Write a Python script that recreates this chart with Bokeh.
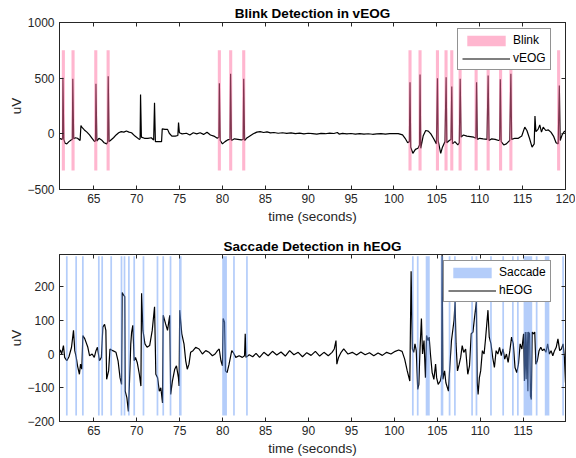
from bokeh.plotting import figure
from bokeh.models import Range1d, FixedTicker, LinearAxis, Legend, LegendItem
from bokeh.layouts import column
from bokeh.embed import file_html
from bokeh.resources import INLINE

# ---------------- data ----------------
veog_t = [61.00, 61.15, 61.30, 61.36, 61.40, 61.50, 61.65, 61.85, 62.10, 62.35, 62.50, 62.55, 62.65, 62.85,
          63.10, 63.40, 63.50, 63.60, 63.90, 64.20, 64.50, 64.80, 65.10, 65.20, 65.25, 65.35, 65.60, 65.90,
          66.20, 66.50, 66.62, 66.68, 66.78, 67.00, 67.30, 67.60, 67.90, 68.20, 68.50, 68.80, 69.10, 69.40,
          69.80, 70.30, 70.40, 70.45, 70.55, 70.90, 71.30, 71.70, 71.98, 72.08, 72.18, 72.50, 72.90, 72.98,
          73.30, 73.60, 73.80, 74.10, 74.50, 74.80, 74.88, 74.98, 75.30, 75.80, 76.20, 76.60, 77.00, 77.40,
          77.80, 78.20, 78.60, 79.00, 79.40, 79.58, 79.64, 79.74, 80.00, 80.30, 80.60, 80.88, 80.95, 81.05,
          81.40, 81.80, 82.20, 82.42, 82.48, 82.58, 82.80, 83.20, 83.60, 84.00, 84.40, 84.80, 85.20, 85.60,
          86.00, 86.50, 87.00, 87.50, 88.00, 88.50, 89.00, 89.50, 90.00, 90.50, 91.00, 91.50, 92.00, 92.50,
          93.00, 93.40, 93.60, 94.00, 94.50, 95.00, 95.50, 96.00, 96.50, 97.00, 97.50, 98.00, 98.50, 99.00,
          99.50, 100.00, 100.50, 101.00, 101.30, 101.60, 101.80, 101.87, 101.95, 102.20, 102.50, 102.80,
          102.98, 103.04, 103.12, 103.40, 103.70, 104.00, 104.30, 104.60, 104.95, 105.07, 105.15, 105.45,
          105.65, 105.95, 106.08, 106.16, 106.45, 106.65, 106.74, 106.82, 107.10, 107.45, 107.62, 107.72,
          107.82, 108.10, 108.50, 108.90, 109.30, 109.55, 109.63, 109.72, 110.00, 110.40, 110.85, 110.98,
          111.08, 111.40, 111.80, 112.20, 112.32, 112.40, 112.50, 112.80, 113.10, 113.50, 113.63, 113.72,
          114.10, 114.50, 114.90, 115.25, 115.50, 115.80, 116.10, 116.35, 116.44, 116.55, 116.80, 117.00,
          117.20, 117.40, 117.70, 118.00, 118.30, 118.60, 118.90, 119.15, 119.28, 119.38, 119.60, 119.85,
          120.00]
veog_v = [-40, -45, -50, -40, 503, -50, -85, -90, -70, -55, -50, 494, -45, -35,
          -40, -60, 75, 60, 35, 15, -10, -40, -70, -60, 449, -65, -40, -55,
          -80, -90, -75, 518, -70, -55, -35, -10, 10, 20, 15, 25, 15, 10,
          -20, -50, -45, 353, -30, -40, -40, -35, -55, 278, -70, -70, -70, 45,
          40, 40, 5, -20, -20, -15, 101, 10, 0, 5, -10, 10, 0, 10,
          -5, 15, -10, -20, -40, -30, 454, -60, -90, -70, -55, -50, 539, -60,
          -45, -50, -55, -50, 494, -60, -40, -20, 0, 15, 20, 12, 18, 8,
          12, 5, 10, 4, 8, 2, 6, 0, 5, 2, -3, 4, 1, 6,
          3, 12, -2, 4, 0, 3, -2, 2, -3, 1, -4, 0, 2, -2,
          1, 3, 2, -10, -40, -80, -70, 464, -120, -175, -140, -130,
          -100, 533, -130, -20, 30, 25, 0, -40, -90, 500, -60, -175,
          -120, -70, 509, -80, -60, -50, 425, -90, -70, -100, -80, 494,
          -30, -10, -20, -25, -30, -40, 464, -50, -40, -45, -50, 524,
          -60, -45, -50, -60, -55, 491, -70, -100, -90, -60, 539, -50,
          -40, -40, -20, 60, 30, -40, -120, -90, 160, 20, 40, 80,
          15, 60, 30, 35, 15, -20, -80, -90, 434, -60, -10, 20,
          25]

heog_t = [61.00, 61.10, 61.25, 61.46, 61.60, 61.85, 62.10, 62.40, 62.63, 62.78, 62.95, 63.10, 63.32, 63.45,
          63.60, 63.72, 63.95, 64.30, 64.50, 64.80, 65.05, 65.25, 65.42, 65.65, 65.88, 66.05, 66.25, 66.40,
          66.49, 66.72, 66.88, 67.20, 67.58, 67.82, 68.05, 68.23, 68.30, 68.45, 68.60, 68.65, 68.85, 69.02,
          69.14, 69.30, 69.40, 69.54, 69.70, 69.85, 70.05, 70.30, 70.48, 70.56, 70.72, 70.95, 71.20, 71.50,
          71.80, 72.07, 72.22, 72.42, 72.62, 72.80, 73.00, 73.08, 73.35, 73.58, 73.84, 73.95, 74.15, 74.42,
          74.62, 74.85, 74.93, 75.00, 75.24, 75.50, 75.70, 75.88, 76.08, 76.27, 76.55, 76.86, 77.25, 77.64,
          78.03, 78.42, 78.81, 79.12, 79.40, 79.60, 79.80, 79.98, 80.06, 80.22, 80.33, 80.52, 80.75, 81.06,
          81.22, 81.53, 81.92, 82.30, 82.55, 82.63, 82.72, 83.10, 83.50, 83.89, 84.30, 84.80, 85.30, 85.80,
          86.30, 86.80, 87.30, 87.80, 88.30, 88.80, 89.30, 89.80, 90.30, 90.80, 91.30, 91.80, 92.30, 92.74,
          93.00, 93.20, 93.30, 93.50, 93.80, 94.10, 94.60, 95.10, 95.60, 96.10, 96.60, 97.10, 97.60, 98.10,
          98.60, 99.10, 99.60, 100.10, 100.50, 100.90, 101.20, 101.50, 101.80, 101.95, 102.10, 102.25,
          102.40, 102.55, 102.72, 102.85, 102.98, 103.15, 103.28, 103.45, 103.62, 103.75, 103.92, 104.05,
          104.20, 104.40, 104.60, 104.80, 104.92, 105.10, 105.35, 105.50, 105.56, 105.65, 105.85, 106.00,
          106.30, 106.45, 106.65, 106.95, 107.07, 107.18, 107.35, 107.55, 107.72, 107.90, 108.08, 108.30,
          108.55, 108.75, 108.95, 109.15, 109.30, 109.55, 109.65, 109.75, 109.90, 110.05, 110.25, 110.45,
          110.60, 110.90, 111.05, 111.25, 111.45, 111.65, 111.85, 112.05, 112.25, 112.45, 112.65, 112.85,
          113.05, 113.25, 113.45, 113.65, 113.85, 114.05, 114.25, 114.45, 114.65, 114.85, 115.05, 115.15,
          115.25, 115.35, 115.45, 115.55, 115.62, 115.75, 115.85, 115.95, 116.05, 116.20, 116.35, 116.48,
          116.65, 116.85, 117.05, 117.25, 117.45, 117.65, 117.85, 118.05, 118.25, 118.45, 118.65, 118.85,
          119.05, 119.25, 119.45, 119.65, 119.80, 119.93]
heog_v = [5, 12, 0, 25, -10, -20, -8, 20, 70, 10, -10, -35, -60, -30,
          -45, 55, 45, 20, -5, 0, -10, 10, 20, -20, -10, 80, 88, 70,
          -75, -50, 15, 10, 5, -20, -70, -90, 182, 175, 170, -110, -130, -170,
          -90, 30, 65, 85, -20, -10, -25, -60, -95, 180, 70, 30, 20, 25,
          70, 140, -60, -70, -110, -100, -145, 115, 90, 70, 115, -120, -80, -45,
          -35, -70, -95, 130, 60, 30, -20, -45, -30, 5, 10, 20, 15, 0,
          10, 5, -5, 0, 10, 15, -20, -35, 105, 95, -50, -55, -30, 10,
          5, -10, -5, -10, -5, 60, -10, -2, -8, 2, -10, 5, -5, 8,
          -3, 6, -6, 10, -2, 5, -8, 4, -4, 8, -6, 5, -5, 5,
          15, 40, -30, -10, 5, 15, 0, 5, -3, 6, -2, 4, -5, 3,
          -4, 5, 0, 8, 12, 8, -15, -50, -80, 245, 15, 5,
          30, 10, -105, -90, 10, 105, 0, 40, -70, 55, 40, 50,
          0, -55, -75, -30, -70, -90, -80, -60, 295, -75, -50, -85,
          -110, -40, 40, 100, 155, 30, -50, -30, -10, 25, 5, 15,
          -60, -35, 60, 65, 100, 155, -85, -120, -70, -50, 10, 0,
          40, 130, 50, 30, -10, -40, 10, 0, 20, -5, 15, -15,
          0, -25, 10, 50, 30, -40, -55, -30, 30, 15, 60, -80,
          65, -75, 65, -110, 65, 60, -125, -135, 65, 60, 65, -30,
          -20, 10, 20, 10, 15, 5, 30, 0, 10, -5, 10, 20,
          45, 10, 15, 30, -10, -85]

blink_start = [61.27, 62.40, 65.05, 66.49, 79.46, 80.78, 82.30, 101.69, 102.86, 104.89, 105.89,
               106.56, 107.53, 109.40, 110.80, 112.25, 113.45, 119.02]
blink_end = [61.63, 62.76, 65.41, 66.85, 79.82, 81.14, 82.66, 102.05, 103.22, 105.25, 106.25,
             106.92, 107.89, 109.76, 111.16, 112.61, 113.81, 119.38]
blink_lo = -330
blink_hi = 750

sacc_start = [61.75, 62.84, 63.62, 65.48, 65.87, 66.92, 68.12, 68.47, 68.98, 69.60, 70.68, 72.31,
              72.98, 73.83, 74.92, 79.95, 81.22, 82.73, 102.05, 102.62, 103.65, 105.40, 106.33,
              106.95, 108.95, 109.46, 111.15, 112.57, 113.70, 114.28, 115.05, 116.47, 117.52, 119.55]
sacc_end = [61.95, 63.04, 63.82, 65.68, 66.07, 67.12, 68.32, 68.67, 69.18, 69.80, 70.88, 72.51,
            73.18, 74.03, 75.22, 80.50, 81.42, 82.93, 102.25, 102.82, 104.12, 105.70, 106.53,
            107.15, 109.15, 109.66, 111.35, 112.77, 113.90, 114.48, 116.05, 116.67, 118.05, 119.75]
sacc_lo = -182
sacc_hi = 290

top_yticks = [-500, 0, 500, 1000]
bot_yticks = [-200, -100, 0, 100, 200]
top_xticks = [65, 70, 75, 80, 85, 90, 95, 100, 105, 110, 115, 120]
bot_xticks = [65, 70, 75, 80, 85, 90, 95, 100, 105, 110, 115]

# ---------------- styling ----------------
FONT = "Liberation Sans"
AX = "#262626"
PINK = "#ff6d9f"
BLUE = "#6a9cf6"


def style_axis(ax, ticker, labels=True, standoff=3):
    ax.ticker = FixedTicker(ticks=ticker)
    ax.axis_line_color = AX
    ax.major_tick_line_color = AX
    ax.major_tick_in = 4
    ax.major_tick_out = 0
    ax.minor_tick_line_color = None
    ax.major_label_text_font = FONT
    if labels:
        ax.major_label_text_color = AX
        ax.major_label_text_font_size = "12px"
        ax.major_label_standoff = standoff
    else:
        ax.major_label_text_color = None
        ax.major_label_text_font_size = "0px"
        ax.major_label_standoff = 0


def make_fig(title, xhi, ylo, yhi, xticks, yticks, top_border, bottom_border, title_standoff):
    p = figure(frame_width=506, frame_height=167,
               x_range=Range1d(61, xhi), y_range=Range1d(ylo, yhi),
               output_backend="svg", toolbar_location=None,
               min_border_left=59, min_border_right=10, min_border_top=top_border,
               min_border_bottom=bottom_border, title=title)
    p.title.align = "center"
    p.title.text_font = FONT
    p.title.text_font_size = "13.5px"
    p.title.text_font_style = "bold"
    p.title.text_color = "black"
    p.title.standoff = title_standoff
    p.title.offset = 0
    p.xgrid.visible = False
    p.ygrid.visible = False
    p.outline_line_color = AX
    p.background_fill_color = "white"
    p.border_fill_color = "white"
    style_axis(p.xaxis[0], xticks, standoff=4)
    style_axis(p.yaxis[0], yticks, standoff=5)
    p.xaxis.axis_label = "time (seconds)"
    p.yaxis.axis_label = "uV"
    for ax in (p.xaxis[0], p.yaxis[0]):
        ax.axis_label_text_font = FONT
        ax.axis_label_text_font_size = "13.5px"
        ax.axis_label_text_font_style = "normal"
        ax.axis_label_text_color = AX
    p.xaxis.axis_label_standoff = 3
    p.yaxis.axis_label_standoff = 0
    top_ax = LinearAxis()
    style_axis(top_ax, xticks, labels=False)
    p.add_layout(top_ax, "above")
    right_ax = LinearAxis()
    style_axis(right_ax, yticks, labels=False)
    p.add_layout(right_ax, "right")
    return p


def make_legend(items, loc):
    lg = Legend(items=items, location=loc, orientation="vertical",
                glyph_width=48, glyph_height=13, label_height=13,
                label_standoff=3, padding=4, spacing=4, margin=0,
                border_line_color=AX, border_line_width=1,
                background_fill_color="white", background_fill_alpha=1,
                label_text_font=FONT, label_text_font_size="12px",
                label_text_color="black")
    return lg


# top plot
p1 = make_fig("Blink Detection in vEOG", 120, -500, 1000, top_xticks, top_yticks, 22, 38, 3)
l1 = p1.line(veog_t, veog_v, line_color="black", line_width=1.2)
b1 = p1.quad(left=blink_start, right=blink_end, bottom=blink_lo, top=blink_hi,
             fill_color=PINK, fill_alpha=0.5, line_color=None)
p1.add_layout(make_legend([LegendItem(label="Blink", renderers=[b1]),
                           LegendItem(label="vEOG", renderers=[l1])], (398, 119)))

# bottom plot
p2 = make_fig("Saccade Detection in hEOG", 119.93, -200, 295, bot_xticks, bot_yticks, 27, 0, 2)
l2 = p2.line(heog_t, heog_v, line_color="black", line_width=1.2)
b2 = p2.quad(left=sacc_start, right=sacc_end, bottom=sacc_lo, top=sacc_hi,
             fill_color=BLUE, fill_alpha=0.5, line_color=None)
p2.add_layout(make_legend([LegendItem(label="Saccade", renderers=[b2]),
                           LegendItem(label="hEOG", renderers=[l2])], (384, 119)))

layout = column(p1, p2, spacing=0)
open("out.html", "w").write(file_html(layout, INLINE))
